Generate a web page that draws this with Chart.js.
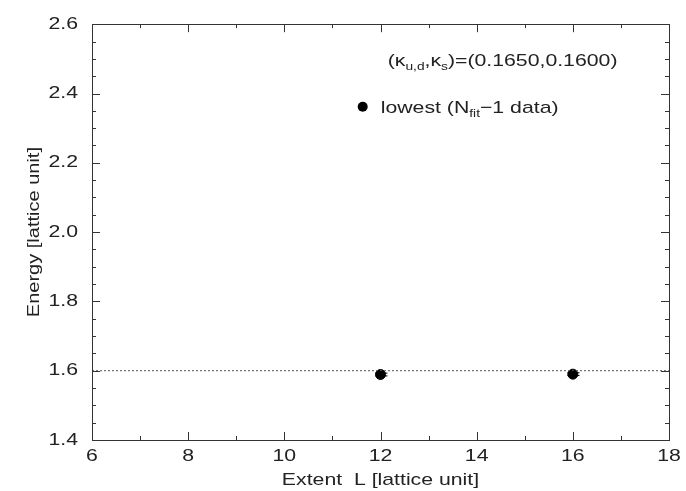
<!DOCTYPE html>
<html>
<head>
<meta charset="utf-8">
<script src="https://cdn.jsdelivr.net/npm/chart.js@4.4.1/dist/chart.umd.min.js"></script>
<style>
  html, body { margin: 0; padding: 0; background: #fff; }
</style>
</head>
<body>
<canvas id="energyChart" width="686" height="491"></canvas>
<script>
// data
const extentL = [12, 16];
const energy = [1.589, 1.590];
const energyErr = [0.004, 0.004];
const fitLineX = [6, 18];
const fitLineY = [1.6, 1.6];
const xTicks = [6, 8, 10, 12, 14, 16, 18];
const yTicks = [1.4, 1.6, 1.8, 2.0, 2.2, 2.4, 2.6];
const xMinorStep = 1;
const yMinorStep = 0.05;

const FONT = "'Liberation Sans', Arial, Helvetica, sans-serif";
const INK = '#222';
const STRETCH = 1.25; // the original lettering is wide

const canvas = document.getElementById('energyChart');
const ctx2d = canvas.getContext('2d');
const rawFillText = ctx2d.fillText.bind(ctx2d);
ctx2d.fillText = function (text, x, y) {
  this.save();
  this.translate(x, y);
  this.scale(STRETCH, 1);
  rawFillText(text, 0, 0);
  this.restore();
};

// frame, inward ticks, error bars, labels
const framePlugin = {
  id: 'frame',
  afterDatasetsDraw(chart) {
    const ctx = chart.ctx;
    const a = chart.chartArea;
    const xs = chart.scales.x, ys = chart.scales.y;
    ctx.save();

    // error bars
    ctx.strokeStyle = '#000';
    ctx.lineWidth = 1;
    extentL.forEach((L, i) => {
      const px = Math.round(xs.getPixelForValue(L)) + 0.5;
      const top = ys.getPixelForValue(energy[i] + energyErr[i]);
      const bot = ys.getPixelForValue(energy[i] - energyErr[i]);
      ctx.beginPath();
      ctx.moveTo(px, top - 2); ctx.lineTo(px, bot + 2);
      ctx.moveTo(px - 6, top); ctx.lineTo(px + 6, top);
      ctx.moveTo(px - 6, bot); ctx.lineTo(px + 6, bot);
      ctx.stroke();
    });

    // frame
    ctx.strokeStyle = '#333';
    ctx.lineWidth = 1;
    ctx.strokeRect(Math.round(a.left) + 0.5, Math.round(a.top) + 0.5,
      Math.round(a.right - a.left), Math.round(a.bottom - a.top));

    // ticks
    const tick = (x1, y1, x2, y2) => {
      ctx.beginPath(); ctx.moveTo(x1, y1); ctx.lineTo(x2, y2); ctx.stroke();
    };
    for (let v = xs.min; v <= xs.max + 1e-9; v += xMinorStep) {
      const px = Math.round(xs.getPixelForValue(v)) + 0.5;
      const major = xTicks.some(t => Math.abs(t - v) < 1e-6);
      const len = major ? 8 : 4;
      tick(px, a.bottom, px, a.bottom - len);
      tick(px, a.top, px, a.top + len);
    }
    for (let v = ys.min; v <= ys.max + 1e-9; v += yMinorStep) {
      const py = Math.round(ys.getPixelForValue(v)) + 0.5;
      const major = yTicks.some(t => Math.abs(t - v) < 1e-6);
      const len = major ? 8 : 4;
      tick(a.left, py, a.left + len, py);
      tick(a.right, py, a.right - len, py);
    }

    // annotation (kappa values)
    ctx.fillStyle = INK;
    ctx.textAlign = 'left';
    ctx.textBaseline = 'alphabetic';
    const drawRuns = (runs, x, y) => {
      runs.forEach(r => {
        ctx.font = (r.sub ? '11px ' : '17px ') + FONT;
        ctx.fillText(r.t, x, y + (r.sub ? 4 : 0));
        x += ctx.measureText(r.t).width * STRETCH;
      });
    };
    drawRuns([
      { t: '(\u03BA' }, { t: 'u,d', sub: true }, { t: ',\u03BA' }, { t: 's', sub: true },
      { t: ')=(0.1650,0.1600)' }
    ], xs.getPixelForValue(12.15), ys.getPixelForValue(2.48));

    // legend
    const lx = xs.getPixelForValue(11.63), ly = ys.getPixelForValue(2.362);
    ctx.fillStyle = '#000';
    ctx.beginPath(); ctx.arc(lx, ly, 5, 0, Math.PI * 2); ctx.fill();
    ctx.fillStyle = INK;
    drawRuns([
      { t: 'lowest (N' }, { t: 'fit', sub: true }, { t: '\u22121 data)' }
    ], lx + 18, ly + 6);

    ctx.restore();
  }
};

new Chart(canvas, {
  type: 'scatter',
  data: {
    datasets: [
      {
        label: 'fit',
        data: fitLineX.map((x, i) => ({ x: x, y: fitLineY[i] })),
        showLine: true,
        borderColor: '#555',
        borderWidth: 1,
        borderDash: [2, 2],
        pointRadius: 0
      },
      {
        label: 'lowest',
        data: extentL.map((x, i) => ({ x: x, y: energy[i] })),
        pointRadius: 5,
        pointBackgroundColor: '#000',
        pointBorderColor: '#000',
        showLine: false
      }
    ]
  },
  options: {
    responsive: false,
    animation: false,
    devicePixelRatio: 1,
    layout: { padding: { top: 15, right: 17, left: 25, bottom: 0 } },
    plugins: {
      legend: { display: false },
      tooltip: { enabled: false }
    },
    scales: {
      x: {
        type: 'linear',
        min: 6,
        max: 18,
        afterBuildTicks: s => { s.ticks = xTicks.map(v => ({ value: v })); },
        afterFit: s => { s.height = 51; },
        grid: { display: false, drawTicks: false },
        border: { display: false },
        ticks: {
          color: INK,
          font: { family: FONT, size: 17 },
          padding: 6,
          maxRotation: 0,
          callback: v => String(v)
        },
        title: {
          display: true,
          text: 'Extent  L [lattice unit]',
          color: INK,
          font: { family: FONT, size: 17 },
          padding: { top: 0, bottom: 0 }
        }
      },
      y: {
        type: 'linear',
        min: 1.4,
        max: 2.6,
        afterBuildTicks: s => { s.ticks = yTicks.map(v => ({ value: v })); },
        afterFit: s => { s.width = 67; },
        grid: { display: false, drawTicks: false },
        border: { display: false },
        ticks: {
          color: INK,
          font: { family: FONT, size: 17 },
          padding: 14,
          callback: v => Number(v).toFixed(1)
        },
        title: {
          display: true,
          text: 'Energy [lattice unit]',
          color: INK,
          font: { family: FONT, size: 16 },
          padding: { top: 0, bottom: 4 }
        }
      }
    }
  },
  plugins: [framePlugin]
});
</script>
</body>
</html>
